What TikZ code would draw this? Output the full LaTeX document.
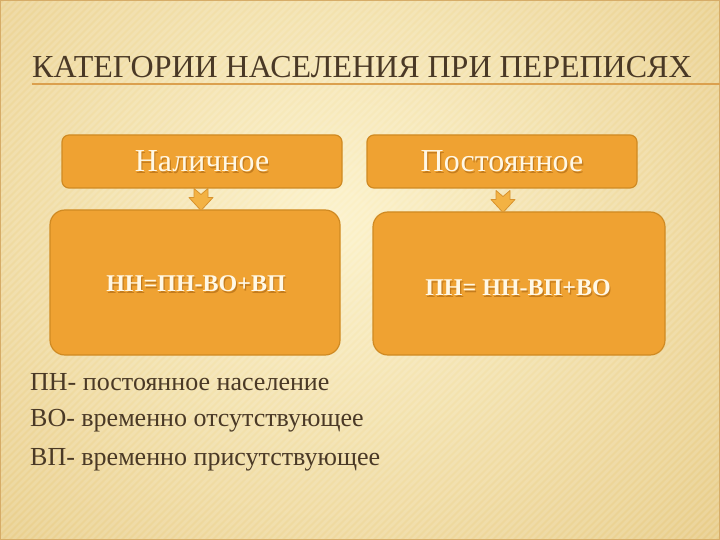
\documentclass[tikz,border=0pt]{standalone}
\usepackage{fontspec}
\setmainfont{Liberation Serif}
\definecolor{bgc}{HTML}{FCF2CA}
\definecolor{bge}{HTML}{E6C983}
\definecolor{titlec}{HTML}{4A3926}
\definecolor{linec}{HTML}{DBA04E}
\definecolor{boxf}{HTML}{EFA232}
\definecolor{boxd}{HTML}{D08A22}
\definecolor{arrf}{HTML}{F3B243}
\definecolor{txtw}{HTML}{FFF8E6}
\definecolor{shad}{HTML}{A86410}
\tikzset{
  topbox/.style={draw=boxd, line width=1.2pt, fill=boxf, rounded corners=7pt, minimum height=53pt, inner sep=0pt},
  botbox/.style={draw=boxd, line width=1.2pt, fill=boxf, rounded corners=15pt, inner sep=0pt},
  headtxt/.style={text=txtw, font=\fontsize{32}{36}\selectfont},
  formtxt/.style={text=txtw, font=\bfseries\fontsize{24}{28}\selectfont},
  shadowtxt/.style={text=shad, opacity=0.6},
  legend/.style={text=titlec, font=\fontsize{26}{30}\selectfont, anchor=base west, inner sep=0pt},
  downarr/.style={draw=boxf!90!black, line width=0.8pt, fill=arrf, line join=round}
}
\newcommand{\myarrow}[1]{%
  \path[downarr] ([shift={(-7,0)}]#1) -- ([shift={(0,6)}]#1) -- ([shift={(7,0)}]#1)
    -- ([shift={(7,9)}]#1) -- ([shift={(12,9)}]#1) -- ([shift={(0,22)}]#1)
    -- ([shift={(-12,9)}]#1) -- ([shift={(-7,9)}]#1) -- cycle;}
\begin{document}
\begin{tikzpicture}[x=1pt,y=-1pt]
\useasboundingbox (0,0) rectangle (720,540);
% background
\shade[inner color=bgc, outer color=bge, shading=radial] (-230,-300) rectangle (900,740);
\begin{scope}
\clip (0,0) rectangle (720,540);
\foreach \i in {-540,-533,...,720}
  \draw[white, opacity=0.14, line width=2.5pt] (\i,540) -- (\i+540,0);
\end{scope}
\draw[bge!60!brown, line width=1.2pt] (0.6,0.6) rectangle (719.4,539.4);
% title
\node[anchor=base west, inner sep=0pt, text=titlec, font=\fontsize{32}{36}\selectfont] (title) at (32,78) {КАТЕГОРИИ НАСЕЛЕНИЯ ПРИ ПЕРЕПИСЯХ};
\coordinate (ul1) at (32,84);
\coordinate (ul2) at (720,84);
\draw[linec, line width=1.2pt] (ul1) -- (ul2);
% boxes
\node[topbox, minimum width=280pt] (nal) at (202,161.5) {};
\node[topbox, minimum width=270pt] (pos) at (502,161.5) {};
\node[botbox, minimum width=290pt, minimum height=145pt] (f1) at (195,282.5) {};
\node[botbox, minimum width=292pt, minimum height=143pt] (f2) at (519,283.5) {};
% arrows
\coordinate (a1) at (201,188.5);
\coordinate (a2) at (503,190.5);
\myarrow{a1}
\myarrow{a2}
% texts
\node[headtxt, shadowtxt] (nals) at ([shift={(1.2,1.2)}]nal.center) {Наличное};
\node[headtxt] (nalt) at (nal.center) {Наличное};
\node[headtxt, shadowtxt] (poss) at ([shift={(1.2,1.2)}]pos.center) {Постоянное};
\node[headtxt] (post) at (pos.center) {Постоянное};
\node[formtxt, shadowtxt] (f1s) at (197.2,285.2) {НН=ПН-ВО+ВП};
\node[formtxt] (f1t) at (196,284) {НН=ПН-ВО+ВП};
\node[formtxt, shadowtxt] (f2s) at (519.2,289.2) {ПН= НН-ВП+ВО};
\node[formtxt] (f2t) at (518,288) {ПН= НН-ВП+ВО};
% legend
\node[legend] (l1) at (30,390) {ПН- постоянное население};
\node[legend] (l2) at (30,426) {ВО- временно отсутствующее};
\node[legend] (l3) at (30,465) {ВП- временно присутствующее};
\end{tikzpicture}
\end{document}
